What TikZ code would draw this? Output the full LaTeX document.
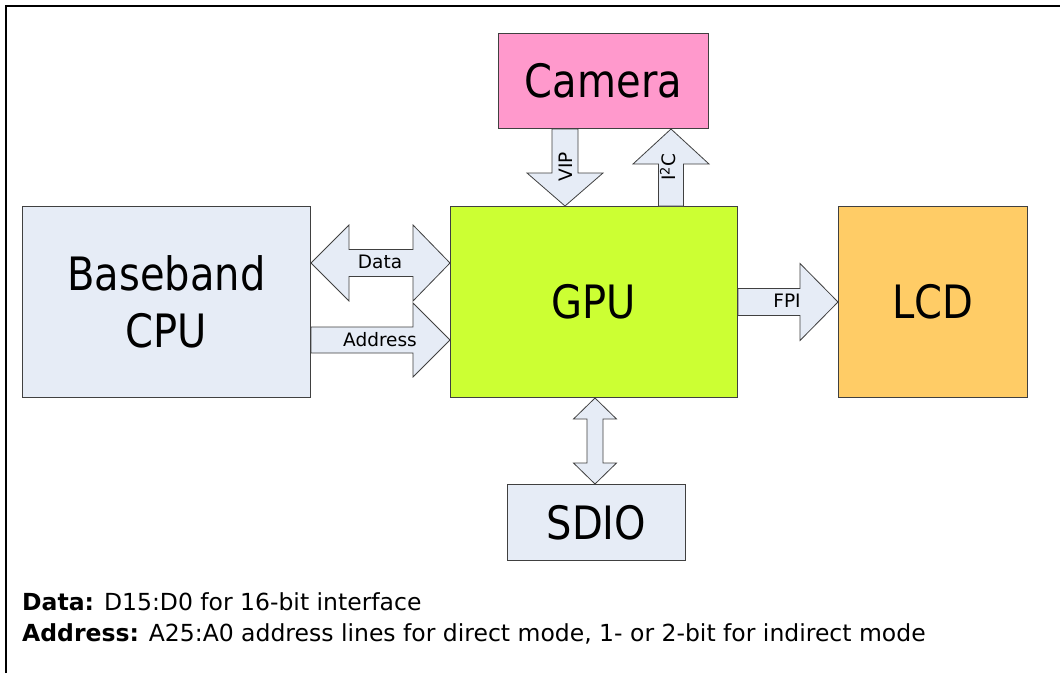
\documentclass[tikz,border=0pt]{standalone}
\usepackage{fontspec}
\setmainfont{DejaVu Sans}[FakeStretch=0.87]
\newfontfamily\plainsans{DejaVu Sans}
\usetikzlibrary{calc}
\definecolor{boxblue}{RGB}{230,236,246}
\definecolor{campink}{RGB}{255,153,204}
\definecolor{gpugreen}{RGB}{204,255,51}
\definecolor{lcdorange}{RGB}{255,204,102}
\definecolor{edge}{RGB}{64,64,64}
\begin{document}
\begin{tikzpicture}[x=1pt,y=-1pt,
  block/.style={draw=edge, line width=1pt, inner sep=0pt, anchor=north west,
                font=\fontsize{46}{57}\selectfont, align=center},
  barrow/.style={draw=edge, line width=0.8pt, fill=boxblue, line join=miter},
  lbl/.style={font=\plainsans\fontsize{18.5}{22}\selectfont, inner sep=0pt},
  note/.style={anchor=base west, inner sep=0pt, font=\plainsans\fontsize{23.5}{28}\selectfont}]
\useasboundingbox (0,0) rectangle (1060,673);
\fill[white] (0,0) rectangle (1060,673);
% frame (top and left edges)
\draw[line width=2.5pt] (6,673) -- (6,6) -- (1060,6);

% blocks
\node[block, fill=boxblue, minimum width=288, minimum height=191] (cpu) at (22,206) {Baseband\\CPU};
\node[block, fill=campink, minimum width=210, minimum height=95] (cam) at (498,33) {Camera};
\node[block, fill=gpugreen, minimum width=287, minimum height=191] (gpu) at (450,206) {GPU};
\node[block, fill=lcdorange, minimum width=189, minimum height=191] (lcd) at (838,206) {LCD};
\node[block, fill=boxblue, minimum width=178, minimum height=76] (sdio) at (507,484) {SDIO};

% reference lines for the block arrows
\coordinate (yD) at (0,263);
\coordinate (yA) at (0,340);
\coordinate (xV) at (565,0);
\coordinate (xI) at (671,0);
\coordinate (xS) at (595,0);

% Data: double-headed arrow CPU <-> GPU
\draw[barrow] (cpu.east |- yD) -- ++(38,-38) -- ++(0,24.5)
  -- ($(gpu.west |- yD)+(-37,-13.5)$) -- ++(0,-24.5) -- (gpu.west |- yD)
  -- ++(-37,38) -- ++(0,-24.5) -- ($(cpu.east |- yD)+(38,13.5)$) -- ++(0,24.5) -- cycle;
% Address: CPU -> GPU
\draw[barrow] (gpu.west |- yA) -- ++(-37,-37) -- ++(0,24)
  -- ($(cpu.east |- yA)+(0,-13)$) -- ++(0,26)
  -- ($(gpu.west |- yA)+(-37,13)$) -- ++(0,24) -- cycle;
% VIP: Camera -> GPU
\draw[barrow] (gpu.north -| xV) -- ++(-38,-33) -- ++(25,0)
  -- ($(cam.south -| xV)+(-13,0)$) -- ++(26,0)
  -- ($(gpu.north -| xV)+(13,-33)$) -- ++(25,0) -- cycle;
% I2C: GPU -> Camera
\draw[barrow] (cam.south -| xI) -- ++(38,35) -- ++(-25.5,0)
  -- ($(gpu.north -| xI)+(12.5,0)$) -- ++(-25,0)
  -- ($(cam.south -| xI)+(-12.5,35)$) -- ++(-25.5,0) -- cycle;
% FPI: GPU -> LCD
\draw[barrow] (lcd.west) -- ++(-38,-38.5) -- ++(0,25)
  -- ($(gpu.east)+(0,-13.5)$) -- ++(0,27)
  -- ($(lcd.west)+(-38,13.5)$) -- ++(0,25) -- cycle;
% GPU <-> SDIO
\draw[barrow] (gpu.south -| xS) -- ++(21.5,21) -- ++(-13.5,0)
  -- ($(sdio.north -| xS)+(8,-21)$) -- ++(13.5,0) -- (sdio.north -| xS)
  -- ++(-21.5,-21) -- ++(13.5,0) -- ($(gpu.south -| xS)+(-8,21)$) -- ++(-13.5,0) -- cycle;

% arrow labels
\node[lbl] (ldata) at (380,262) {Data};
\node[lbl] (laddr) at (380,340) {Address};
\node[lbl] (lfpi) at (787,301) {FPI};
\node[lbl, rotate=90] (lvip) at (566,167) {VIP};
\node[lbl, rotate=90] (li2c) at (668,167) {I\textsuperscript{2}C};

% notes
\node[note] (n1) at (22,610) {\textbf{Data:} D15:D0 for 16-bit interface};
\node[note] (n2) at (22,641) {\textbf{Address:} A25:A0 address lines for direct mode, 1- or 2-bit for indirect mode};
\end{tikzpicture}
\end{document}
